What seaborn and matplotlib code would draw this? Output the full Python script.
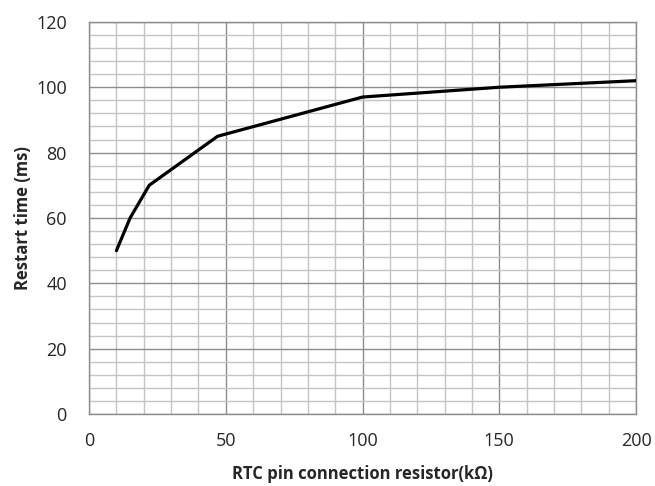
import numpy as np
import pandas as pd
import matplotlib
matplotlib.use("Agg")
import matplotlib.pyplot as plt
import seaborn as sns
from matplotlib.ticker import MultipleLocator

# Data
resistor_kohm = [10, 15, 22, 47, 100, 150, 200]
restart_ms = [50, 60, 70, 85, 97, 100, 102]

df = pd.DataFrame({"resistor": resistor_kohm, "restart": restart_ms})

sns.set_style("white")
plt.rcParams['font.family'] = ['Open Sans', 'DejaVu Sans']

fig = plt.figure(figsize=(6.55, 4.86), dpi=100)
ax = fig.add_axes([0.136, 0.148, 0.835, 0.807])

sns.lineplot(x="resistor", y="restart", data=df, color="black", linewidth=2.3, ax=ax, zorder=5)

ax.set_xlim(0, 200)
ax.set_ylim(0, 120)
ax.xaxis.set_major_locator(MultipleLocator(50))
ax.xaxis.set_minor_locator(MultipleLocator(10))
ax.yaxis.set_major_locator(MultipleLocator(20))
ax.yaxis.set_minor_locator(MultipleLocator(4))

ax.grid(which="minor", color="#c4c4c4", linewidth=1.0)
ax.grid(which="major", color="#8c8c8c", linewidth=1.0)
ax.set_axisbelow(True)

for side in ["top", "right", "left", "bottom"]:
    ax.spines[side].set_color("#8c8c8c")
    ax.spines[side].set_linewidth(1.0)

ax.tick_params(which="both", length=0)
ax.tick_params(axis="x", labelsize=13, pad=13)
ax.tick_params(axis="y", labelsize=13, pad=16)

ax.set_xlabel("RTC pin connection resistor(kΩ)", fontsize=12, fontweight="bold", labelpad=11)
ax.set_ylabel("Restart time (ms)", fontsize=12, fontweight="bold", labelpad=3)

fig.savefig("out.png", dpi=100)
